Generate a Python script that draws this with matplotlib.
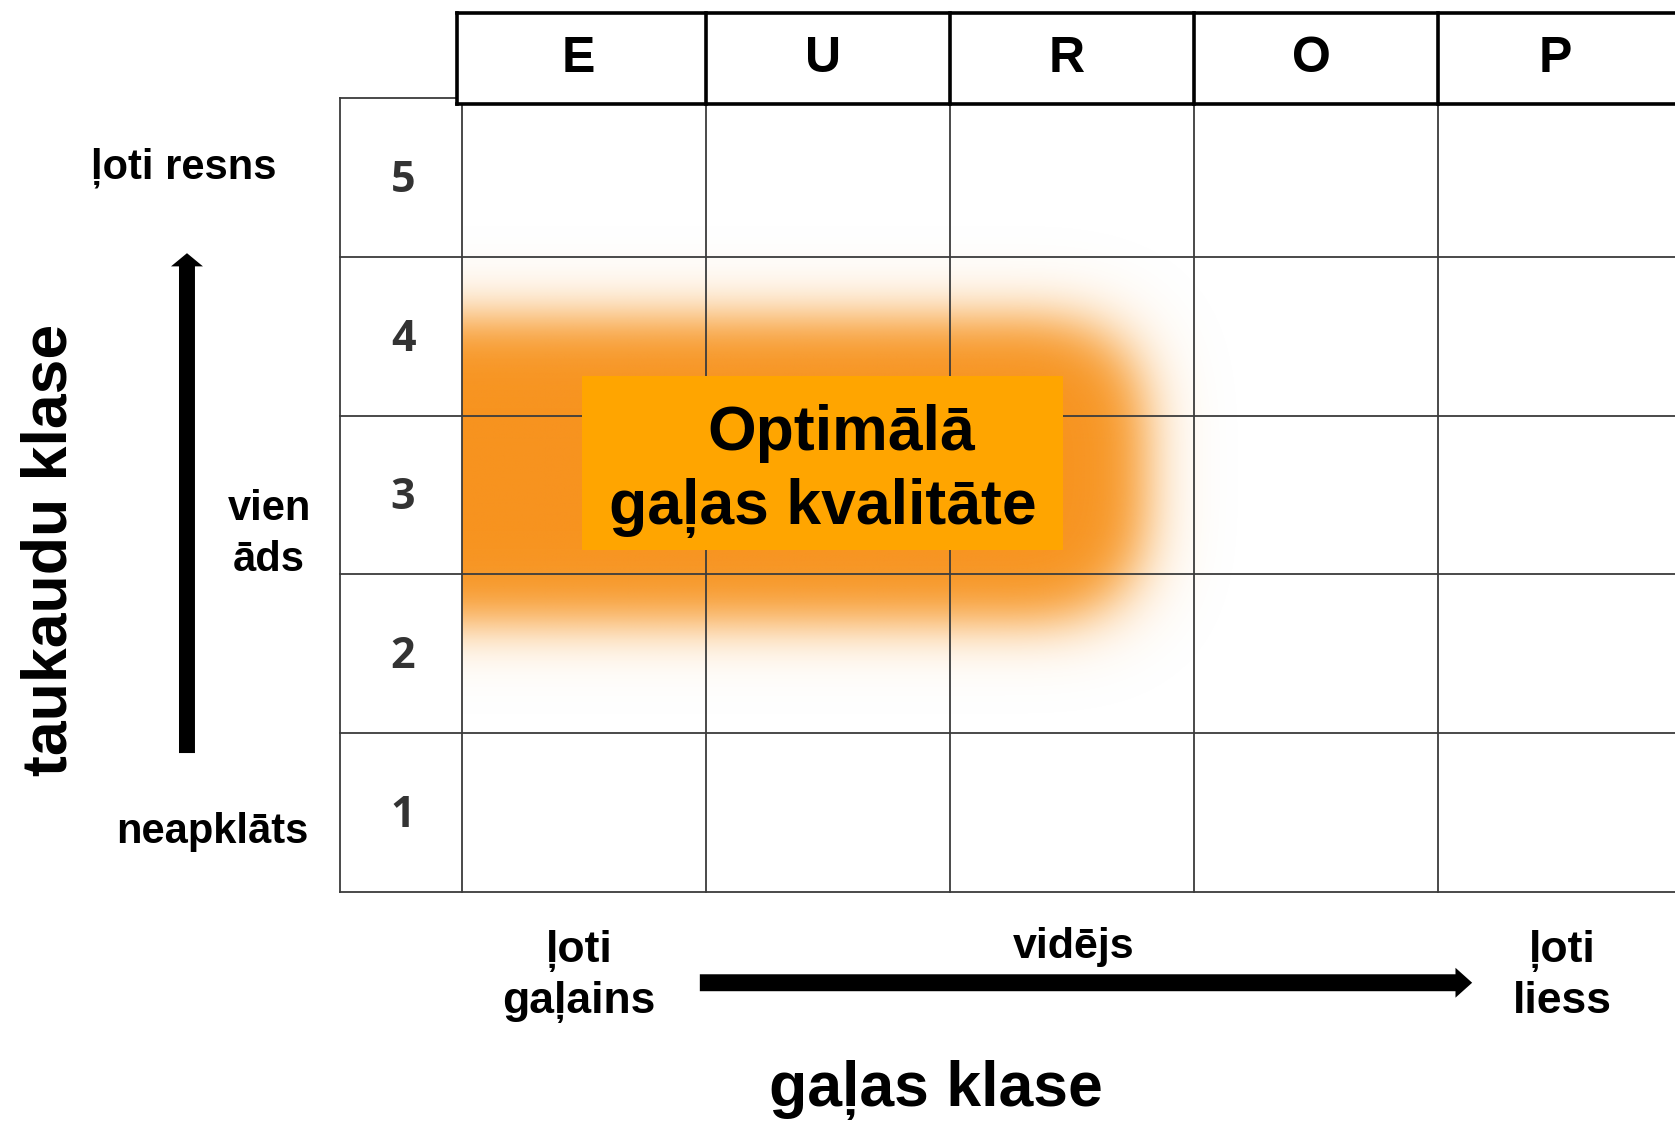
import numpy as np
import matplotlib.pyplot as plt
from matplotlib.patches import Rectangle, FancyArrowPatch

# grid categories
carcass_classes = ['E', 'U', 'R', 'O', 'P']
fat_classes = [1, 2, 3, 4, 5]

# side / bottom wording
fat_top = 'ļoti resns'
fat_mid = ['vien', 'āds']
fat_bottom = 'neapklāts'
conf_left = ['ļoti', 'gaļains']
conf_mid = 'vidējs'
conf_right = ['ļoti', 'liess']
optimal_text = ['Optimālā', 'gaļas kvalitāte']
x_title = 'gaļas klase'
y_title = 'taukaudu klase'

FONT = ['Liberation Sans', 'DejaVu Sans']
BOX = '#FFA500'
GRID = '#3c3c3c'

fig = plt.figure(figsize=(16.75, 11.21), dpi=100)
ax = fig.add_axes([0, 0, 1, 1])

# orange glow behind the optimal zone (rounded right end, soft edges)
px_x, px_y = 244.1, 158.75          # pixels per data unit
glow_cy, glow_half, glow_cx = 2.658, 153, 2.18
gx = np.linspace(0, 3.4, 840)
gy = np.linspace(1.0, 4.3, 540)
GX, GY = np.meshgrid(gx, gy)
dx = np.clip((GX - glow_cx) * px_x, 0, None)
dy = np.abs(GY - glow_cy) * px_y
d = (dx ** 3 + dy ** 3) ** (1 / 3) - glow_half
alpha = 0.5 * (1 - np.tanh(d / 33))
rgba = np.zeros(GX.shape + (4,))
rgba[..., :3] = [247 / 255, 147 / 255, 30 / 255]
rgba[..., 3] = alpha
ax.imshow(rgba, extent=(0, 3.4, 1.0, 4.3), origin='lower', aspect='auto',
          interpolation='bilinear', zorder=1)

# grid: number column + 5 class columns
n_cols = len(carcass_classes)
n_rows = len(fat_classes)
for xv in [-0.5] + list(range(n_cols + 1)):
    ax.plot([xv, xv], [0, n_rows], color=GRID, lw=1.3, zorder=2)
for yv in range(n_rows + 1):
    ax.plot([-0.5, n_cols + 0.3], [yv, yv], color=GRID, lw=1.3, zorder=2)

# header row with class letters
h_bot, h_top = 4.966, 5.538
ax.add_patch(Rectangle((-0.0175, h_bot), n_cols + 0.5, h_top - h_bot,
                       fc='white', ec='none', zorder=3))
ax.plot([-0.0175, n_cols + 0.5], [h_top, h_top], color='black', lw=2.6, zorder=4)
ax.plot([-0.0175, n_cols + 0.5], [h_bot, h_bot], color='black', lw=2.6, zorder=4)
for i in range(n_cols):
    xv = -0.0175 if i == 0 else i
    ax.plot([xv, xv], [h_bot, h_top], color='black', lw=2.6, zorder=4)
for i, c in enumerate(carcass_classes):
    ax.text(i + 0.48, 5.168, c, ha='center', va='baseline', fontsize=36,
            fontweight='bold', family=FONT, zorder=5)

# fat class numbers
for r in fat_classes:
    ax.text(-0.24, r - 0.59, str(r), ha='center', va='baseline', fontsize=31,
            fontweight='bold', family=['Open Sans', 'DejaVu Sans'],
            color='#333333', zorder=5)

# optimal label box
ax.add_patch(Rectangle((0.4945, 2.153), 1.97, 1.097, fc=BOX, ec='none', zorder=4))
ax.text(1.554, 2.786, optimal_text[0], ha='center', va='baseline', fontsize=45,
        fontweight='bold', family=FONT, zorder=5)
ax.text(1.479, 2.32, optimal_text[1], ha='center', va='baseline', fontsize=45,
        fontweight='bold', family=FONT, zorder=5)

# left side labels and arrow
ax.text(-1.140, 4.495, fat_top, ha='center', va='baseline', fontsize=30,
        fontweight='bold', family=FONT)
ax.text(-0.788, 2.342, fat_mid[0], ha='center', va='baseline', fontsize=30,
        fontweight='bold', family=FONT)
ax.text(-0.788, 2.019, fat_mid[1], ha='center', va='baseline', fontsize=30,
        fontweight='bold', family=FONT)
ax.text(-1.02, 0.31, fat_bottom, ha='center', va='baseline', fontsize=30,
        fontweight='bold', family=FONT)
ax.add_patch(FancyArrowPatch((-1.125, 0.875), (-1.125, 4.024),
                             arrowstyle='simple,head_length=9.5,head_width=23,tail_width=11.5',
                             mutation_scale=1, color='black', lw=0,
                             shrinkA=0, shrinkB=0, zorder=3))
ax.text(-1.619, 2.153, y_title, rotation=90, rotation_mode='anchor',
        ha='center', va='baseline', fontsize=45, fontweight='bold', family=FONT)

# bottom labels and arrow
ax.text(0.48, -0.444, conf_left[0], ha='center', va='baseline', fontsize=32,
        fontweight='bold', family=FONT)
ax.text(0.48, -0.76, conf_left[1], ha='center', va='baseline', fontsize=32,
        fontweight='bold', family=FONT)
ax.text(2.508, -0.417, conf_mid, ha='center', va='baseline', fontsize=31,
        fontweight='bold', family=FONT)
ax.text(4.508, -0.444, conf_right[0], ha='center', va='baseline', fontsize=32,
        fontweight='bold', family=FONT)
ax.text(4.508, -0.76, conf_right[1], ha='center', va='baseline', fontsize=32,
        fontweight='bold', family=FONT)
ax.add_patch(FancyArrowPatch((0.976, -0.572), (4.14, -0.572),
                             arrowstyle='simple,head_length=12,head_width=21.5,tail_width=12.2',
                             mutation_scale=1, color='black', lw=0,
                             shrinkA=0, shrinkB=0, zorder=3))
ax.text(1.943, -1.346, x_title, ha='center', va='baseline', fontsize=45,
        fontweight='bold', family=FONT)

ax.set_xlim(-1.891, 4.971)
ax.set_ylim(-1.443, 5.619)
ax.axis('off')

fig.savefig('out.png', dpi=100, facecolor='white')
